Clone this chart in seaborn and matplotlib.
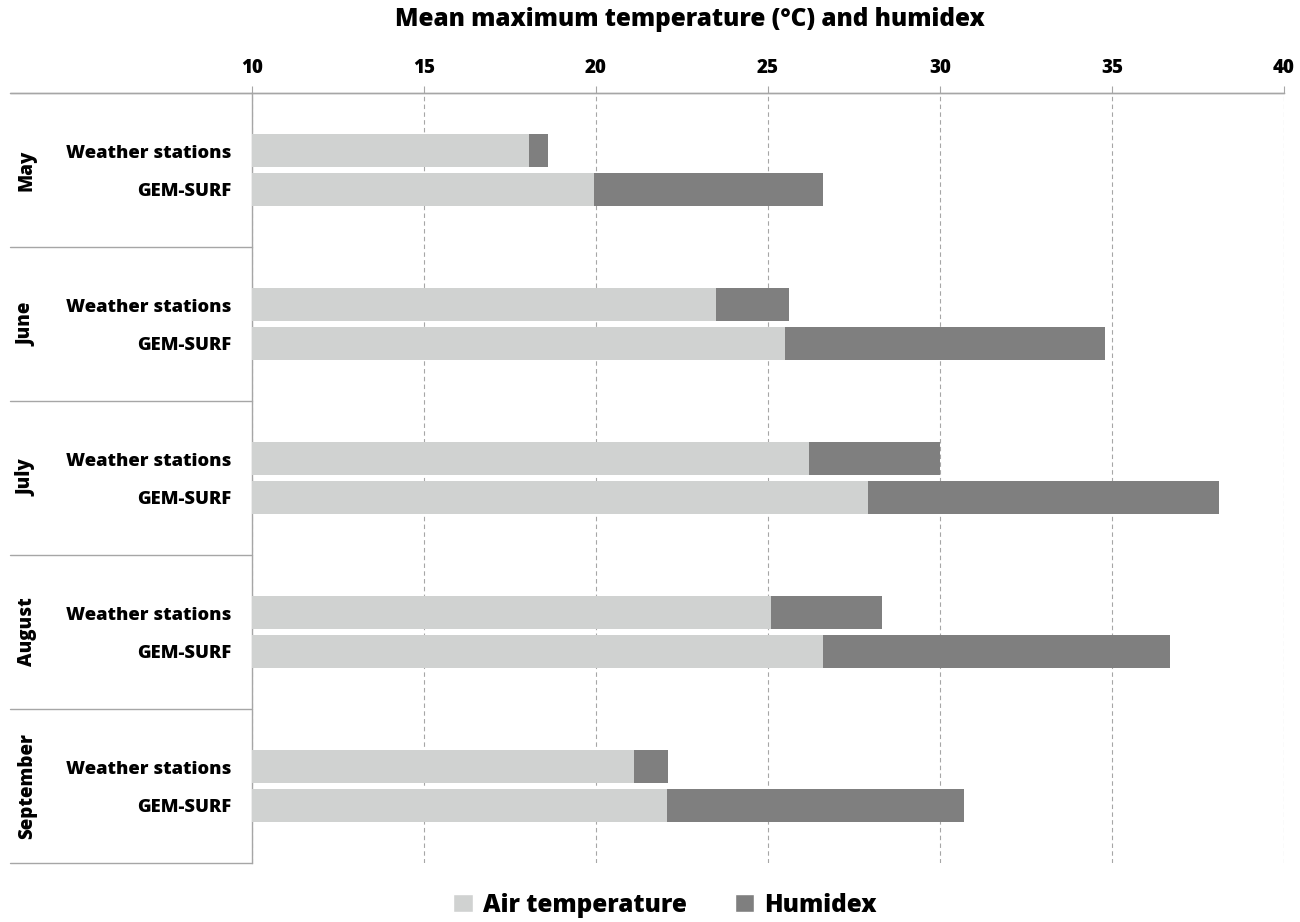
import pandas as pd
import numpy as np
import matplotlib.pyplot as plt
import seaborn as sns
from matplotlib.patches import Patch
from matplotlib.transforms import blended_transform_factory

# Данные
months = ['May', 'June', 'July', 'August', 'September']
sources = ['Weather stations', 'GEM-SURF']
air_ws = [18.05, 23.5, 26.2, 25.1, 21.1]
air_gem = [19.95, 25.5, 27.9, 26.6, 22.05]
humidex_ws = [18.6, 25.6, 30.0, 28.3, 22.1]
humidex_gem = [26.6, 34.8, 38.1, 36.7, 30.7]

df = pd.DataFrame({
    'month': months * 2,
    'source': [sources[0]] * 5 + [sources[1]] * 5,
    'air': air_ws + air_gem,
    'humidex': humidex_ws + humidex_gem,
})

sns.set_style('white')
plt.rcParams['font.family'] = ['Open Sans', 'DejaVu Sans']
plt.rcParams['font.weight'] = 'bold'
plt.rcParams['text.color'] = 'black'
plt.rcParams['xtick.color'] = 'black'

fig = plt.figure(figsize=(13, 9.22), dpi=100)
ax = fig.add_axes([252 / 1300, 1 - 863 / 922, 1032 / 1300, 770 / 922])

air_color = '#d0d2d1'
hum_color = '#7f7f7f'
fw = 'heavy'

# Гумидекс снизу, температура воздуха поверх
sns.barplot(data=df, y='month', x='humidex', hue='source', hue_order=sources,
            order=months, orient='h', palette=[hum_color, hum_color],
            width=0.5, gap=0.15, legend=False, ax=ax, zorder=3)
sns.barplot(data=df, y='month', x='air', hue='source', hue_order=sources,
            order=months, orient='h', palette=[air_color, air_color],
            width=0.5, gap=0.15, legend=False, ax=ax, zorder=4)
for p in ax.patches:
    p.set_linewidth(0)

ax.set_xlim(10, 40)
ax.set_ylim(len(months) - 0.5, -0.5)
ax.set_xticks(range(10, 41, 5))
ax.xaxis.tick_top()
ax.set_xlabel('')
ax.set_ylabel('')
ax.set_yticks([])
ax.tick_params(axis='x', labelsize=13.5, length=5, color='#a6a6a6', labelcolor='black',
               pad=5.5, direction='out')
for lbl in ax.get_xticklabels():
    lbl.set_fontweight(fw)
fig.text(690 / 1300, 1 - 19 / 922, 'Mean maximum temperature (°C) and humidex',
         ha='center', va='center', fontsize=17.5, fontweight=fw)

ax.grid(axis='x', color='#a6a6a6', linestyle=(0, (4, 3)), linewidth=0.8, zorder=0)
ax.set_axisbelow(True)
for side in ['right', 'bottom']:
    ax.spines[side].set_visible(False)
for side in ['left', 'top']:
    ax.spines[side].set_color('#a6a6a6')
    ax.spines[side].set_linewidth(1)

# Подписи групп и разделители слева
tr = blended_transform_factory(ax.transAxes, ax.transData)
x_left = (10 - 252) / 1032
for i, m in enumerate(months):
    ax.text((27 - 252) / 1032, i, m, transform=tr, rotation=90, ha='center', va='center',
            fontsize=13.5, fontweight=fw)
    ax.text((231 - 252) / 1032, i - 0.11, sources[0], transform=tr, ha='right',
            va='center', fontsize=13.2, fontweight=fw)
    ax.text((231 - 252) / 1032, i + 0.14, sources[1], transform=tr, ha='right',
            va='center', fontsize=13.2, fontweight=fw)
for i in range(len(months) + 1):
    ax.plot([x_left, 0], [i - 0.5, i - 0.5], transform=tr, color='#a6a6a6',
            linewidth=1, clip_on=False)
ax.plot([x_left, 1], [-0.5, -0.5], transform=tr, color='#a6a6a6', linewidth=1, clip_on=False)

handles = [Patch(facecolor=air_color, label='Air temperature'),
           Patch(facecolor=hum_color, label='Humidex')]
fig.legend(handles=handles, loc='center', bbox_to_anchor=(665 / 1300, 1 - 905 / 922), ncol=2,
           frameon=False, prop={'size': 17.5, 'weight': fw}, handlelength=0.8,
           handleheight=0.8, handletextpad=0.4, columnspacing=2.0)

fig.savefig('out.png', dpi=100)
